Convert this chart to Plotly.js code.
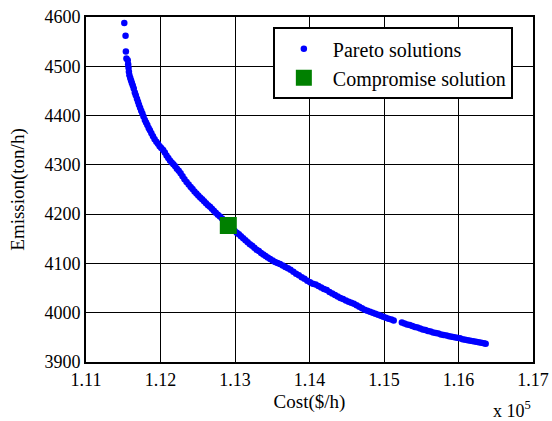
<!DOCTYPE html>
<html>
<head>
<meta charset="utf-8">
<script src="https://cdn.plot.ly/plotly-3.0.1.min.js"></script>
<style>html,body{margin:0;padding:0;background:#fff;}#chart{width:552px;height:421px;}</style>
</head>
<body>
<div id="chart"></div>
<script>
// Pareto front: cost ($/h) and emission (ton/h)
var paretoCost = [
111514,111531,111535,111543,
111560,111566,111571,111576,111583,111594,111605,111616,111628,111641,111655,111668,111684,111698,111711,111726,
111741,111757,111772,111790,111806,111823,111841,111858,111878,111899,111921,111944,111966,111988,112010,112035,
112058,112081,112104,112127,112150,112173,
112197,112220,112245,112270,112296,112322,112350,112378,112405,112430,112456,112482,112507,112533,112559,112585,
112611,112638,112664,112690,112716,112742,112770,112798,112826,112855,112883,112912,112940,112968,112996,113024,
113052,113080,113110,113140,113170,113200,113230,113260,113290,113320,113350,113380,113410,113440,113472,113505,
113538,113570,113604,
113640,113675,113710,113745,113783,113820,113857,113895,113932,113970,114007,114045,114082,114120,114157,114194,
114231,114268,114305,114342,114378,114414,114450,114488,114525,114560,114596,114632,114668,114704,114740,114776,
114812,114848,114884,114920,114956,114990,115025,115060,115100,115130,
115240,115275,115310,115345,115380,115415,115450,115485,115520,115555,115590,115625,115660,115695,115730,115765,
115800,115840,115875,115910,115945,115980,116020,116055,116090,116125,116160,116199,116235,116270,116305,116340,116365
];
var paretoEmission = [
4588,4562,4530,4516,
4512,4504,4497,4489,4482,4476,4471,4466,4461,4455,4447,4441,4434,4428,4422,4416,
4410,4404,4398,4391,4386,4381,4375,4370,4364,4358,4352,4347,4343,4338,4334,4330,
4325,4319,4314,4309,4305,4301,
4297,4292,4288,4283,4277,4271,4265,4260,4255,4251,4246,4242,4238,4234,4230,4226,
4222,4218,4215,4211,4207,4203,4199,4195,4191,4186,4181,4177,4173,4169,4166,4162,
4159,4155,4151,4147,4143,4139,4136,4132,4128,4125,4121,4118,4115,4112,4109,4106,
4103,4101,4099,
4096,4093,4090,4087,4083,4079,4076,4072,4069,4065,4062,4059,4057,4054,4051,4048,
4046,4042,4039,4036,4033,4030,4028,4025,4022,4020,4018,4015,4012,4009,4006,4004,
4002,4000,3998,3996,3994,3992,3990,3988,3986,3984,
3980,3978,3976,3975,3973,3971,3970,3968,3966,3965,3963,3962,3960,3959,3958,3956,
3955,3954,3952,3951,3950,3949,3948,3946,3945,3944,3943,3942,3941,3940,3939,3938,3937
];
var compromiseCost = [112910];
var compromiseEmission = [4177];

var xTickVals = [111000,112000,113000,114000,115000,116000,117000];
var xTickText = ['1.11','1.12','1.13','1.14','1.15','1.16','1.17'];
var yTickVals = [3900,4000,4100,4200,4300,4400,4500,4600];

var serif = 'Liberation Serif';

var traces = [
  {
    x: paretoCost, y: paretoEmission, type: 'scatter', mode: 'markers',
    name: 'Pareto solutions',
    marker: {color: '#0000ff', size: 6.5, line: {width: 0}}
  },
  {
    x: compromiseCost, y: compromiseEmission, type: 'scatter', mode: 'markers',
    name: 'Compromise solution',
    marker: {color: '#008000', symbol: 'square', size: 17, line: {width: 0}}
  }
];

var layout = {
  width: 552, height: 421,
  margin: {l: 86, r: 19, t: 17, b: 59},
  paper_bgcolor: '#ffffff', plot_bgcolor: '#ffffff',
  font: {family: serif, size: 18, color: '#000'},
  showlegend: true,
  legend: {
    x: 0.418, y: 0.97, xanchor: 'left', yanchor: 'top',
    bgcolor: '#ffffff', bordercolor: '#000', borderwidth: 2,
    font: {family: serif, size: 20, color: '#000'},
    itemwidth: 48, tracegroupgap: 0
  },
  xaxis: {
    range: [111000, 117000], tickvals: xTickVals, ticktext: xTickText,
    showgrid: true, gridcolor: '#000', gridwidth: 1,
    showline: true, linecolor: '#000', linewidth: 2, mirror: 'ticks',
    ticks: 'inside', ticklen: 5, tickcolor: '#000', zeroline: false,
    tickfont: {family: serif, size: 18, color: '#000'},
    title: {text: 'Cost($/h)', font: {family: serif, size: 19, color: '#000'}, standoff: 6}
  },
  yaxis: {
    range: [3900, 4600], tickvals: yTickVals,
    showgrid: true, gridcolor: '#000', gridwidth: 1,
    showline: true, linecolor: '#000', linewidth: 2, mirror: 'ticks',
    ticks: 'inside', ticklen: 5, tickcolor: '#000', zeroline: false,
    tickfont: {family: serif, size: 18, color: '#000'},
    title: {text: 'Emission(ton/h)', font: {family: serif, size: 19, color: '#000'}, standoff: 15}
  },
  annotations: [
    {xref: 'paper', yref: 'paper', x: 1, y: -0.139, xanchor: 'right', yanchor: 'middle',
     text: 'x 10<sup>5</sup>', showarrow: false, font: {family: serif, size: 18, color: '#000'}}
  ]
};

Plotly.newPlot('chart', traces, layout, {displayModeBar: false, staticPlot: true});
</script>
</body>
</html>
